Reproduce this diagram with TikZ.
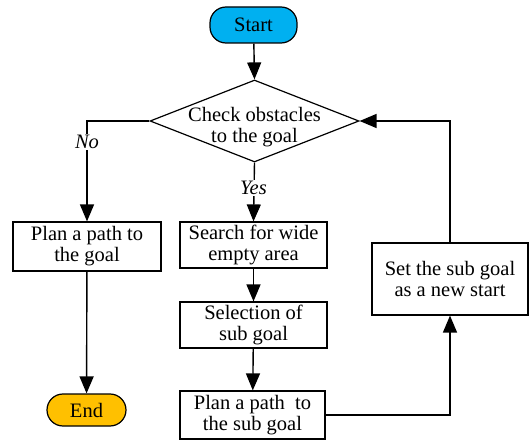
\documentclass[tikz,border=0pt]{standalone}
\usepackage{fontspec}
\setmainfont{Liberation Serif}
\usetikzlibrary{shapes.geometric,arrows.meta}
\definecolor{startc}{HTML}{00B0F0}
\definecolor{endc}{HTML}{FFC000}
\begin{document}
\begin{tikzpicture}[x=1pt,y=-1pt,
  every node/.style={font=\fontsize{20.5}{21}\selectfont},
  box/.style={draw,line width=1.2pt,rectangle,align=center,inner sep=0pt},
  term/.style={draw,line width=1.2pt,rectangle,rounded corners=16pt,inner sep=0pt},
  conn/.style={line width=1.4pt,-{Triangle[length=17pt,width=14pt]}},
  lab/.style={fill=white,inner sep=1pt,font=\fontsize{20.5}{21}\selectfont\itshape}]
\useasboundingbox (0,0) rectangle (531,441);
\node[term,fill=startc,minimum width=87pt,minimum height=36pt] (start) at (253.5,25) {Start};
\node[diamond,draw,line width=1.2pt,minimum width=209pt,minimum height=82pt,inner sep=0pt] (dec) at (254.5,121) {};
\node[align=center,inner sep=0pt] (dectext) at (254.5,127) {Check obstacles\\to the goal};
\node[box,minimum width=148pt,minimum height=49pt] (plan1) at (87,246.5) {Plan a path to\\the goal};
\node[term,fill=endc,minimum width=79pt,minimum height=32pt] (end) at (86.5,410) {End};
\node[box,minimum width=147pt,minimum height=46pt] (search) at (253.5,245) {Search for wide\\empty area};
\node[box,minimum width=147pt,minimum height=46pt] (select) at (253.5,325) {Selection of\\sub goal};
\node[box,minimum width=145pt,minimum height=48pt] (plan2) at (252.5,415) {Plan a path~ to\\the sub goal};
\node[box,minimum width=156pt,minimum height=72pt] (setg) at (450,279) {Set the sub goal\\as a new start};
\draw[conn] (start) -- (dec.north);
\draw[conn] (dec.west) -| (plan1.north);
\node[lab] (no) at (87,142) {No};
\draw[conn] (dec.south) -- (search.north);
\node[lab] (yes) at (253.5,188) {Yes};
\draw[conn] (search) -- (select);
\draw[conn] (select) -- (plan2);
\draw[conn] (plan1) -- (end);
\draw[conn] (plan2.east) -| (setg.south);
\draw[conn] (setg.north) |- (dec.east);
\end{tikzpicture}
\end{document}
